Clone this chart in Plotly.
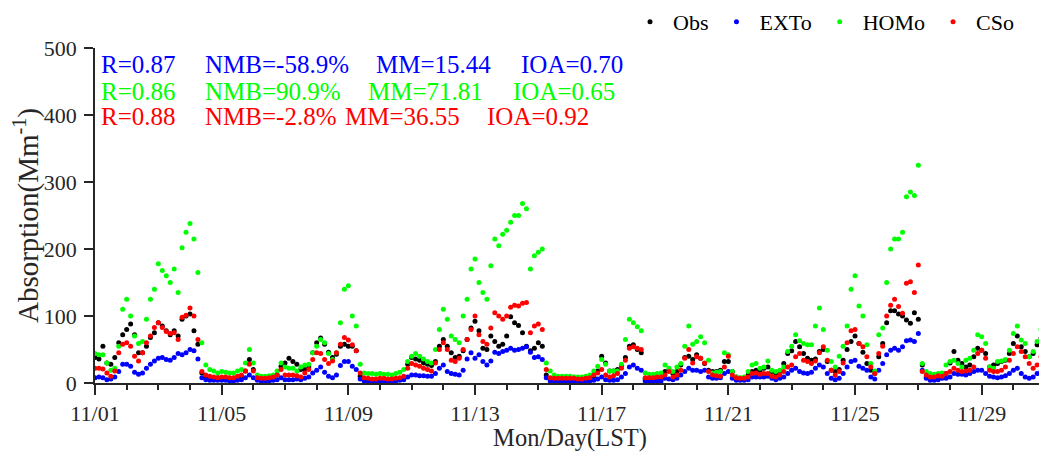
import plotly.graph_objects as go
import pandas as pd

# ---------------- data (3-hourly, 11/01 00:00 -> 11/30 21:00) ----------------
start_date = "2018-11-01"
n_points = 240

obs = [
    38, 36, 55, 30, 28, 38, 60, 72,        # 11/01
    80, 88, 72, 45, 45, 55, 68, 75,        # 11/02
    90, 85, 78, 72, 78, 70, 95, 100,       # 11/03
    103, 78, 58, 15, 10, 8, 7, 8,          # 11/04
    8, 8, 7, 7, 8, 10, 18, 35,             # 11/05
    20, 10, 7, 6, 7, 8, 12, 25,            # 11/06
    30, 37, 32, 28, 20, 20, 24, 45,        # 11/07
    60, 67, 58, 46, 38, 43, 55, 58,        # 11/08
    55, 55, 48, 10, 6, 5, 5, 5,            # 11/09
    5, 5, 4, 4, 5, 6, 8, 28,               # 11/10
    38, 36, 34, 30, 28, 26, 32, 55,        # 11/11
    65, 55, 45, 38, 40, 48, 65, 82,        # 11/12
    92, 78, 52, 50, 70, 62, 55, 58,        # 11/13
    70, 99, 90, 86, 75, 55, 48, 52,        # 11/14
    60, 55, 12, 6, 5, 5, 5, 5,             # 11/15
    5, 5, 4, 4, 5, 6, 10, 18,              # 11/16
    40, 30, 18, 18, 20, 26, 38, 55,        # 11/17
    57, 50, 45, 6, 6, 6, 7, 8,             # 11/18
    17, 19, 14, 17, 27, 38, 40, 35,        # 11/19
    42, 37, 29, 19, 17, 17, 19, 32,        # 11/20
    32, 17, 9, 7, 7, 12, 17, 19,           # 11/21
    19, 22, 24, 17, 14, 17, 29, 44,        # 11/22
    48, 62, 54, 44, 37, 34, 36, 47,        # 11/23
    50, 32, 19, 17, 20, 34, 50, 62,        # 11/24
    70, 59, 46, 29, 19, 14, 39, 59,        # 11/25
    90, 108, 108, 103, 100, 94, 89, 105,   # 11/26
    95, 27, 9, 7, 7, 8, 8, 14,             # 11/27
    30, 47, 34, 29, 24, 27, 39, 52,        # 11/28
    49, 44, 24, 27, 29, 32, 34, 44,        # 11/29
    59, 70, 54, 47, 39, 44, 57, 67,        # 11/30
]

ext = [
    8, 9, 8, 5, 6, 9, 17, 28,              # 11/01
    28, 25, 16, 13, 15, 22, 28, 33,        # 11/02
    37, 38, 35, 34, 38, 44, 42, 45,        # 11/03
    50, 48, 36, 8, 5, 4, 4, 4,             # 11/04
    4, 4, 3, 3, 4, 5, 8, 12,               # 11/05
    8, 4, 3, 3, 3, 4, 5, 8,                # 11/06
    5, 5, 5, 6, 5, 7, 9, 15,               # 11/07
    19, 24, 16, 10, 8, 12, 26, 32,         # 11/08
    32, 25, 20, 6, 3, 3, 3, 3,             # 11/09
    3, 3, 3, 3, 3, 4, 5, 9,                # 11/10
    12, 12, 11, 11, 10, 10, 14, 22,        # 11/11
    27, 17, 14, 13, 12, 19, 36, 45,        # 11/12
    37, 42, 32, 27, 33, 46, 44, 47,        # 11/13
    49, 52, 49, 50, 52, 54, 46, 38,        # 11/14
    39, 35, 8, 3, 3, 3, 3, 3,              # 11/15
    3, 3, 3, 3, 3, 3, 4, 6,                # 11/16
    9, 5, 4, 4, 5, 9, 14, 24,              # 11/17
    27, 22, 19, 3, 3, 3, 3, 3,             # 11/18
    7, 6, 5, 7, 12, 17, 22, 19,            # 11/19
    19, 17, 19, 9, 7, 7, 8, 14,            # 11/20
    17, 7, 4, 4, 4, 5, 9, 9,               # 11/21
    9, 9, 10, 7, 5, 7, 9, 14,              # 11/22
    19, 22, 17, 15, 14, 16, 22, 27,        # 11/23
    24, 14, 7, 5, 7, 14, 24, 32,           # 11/24
    34, 25, 22, 19, 9, 6, 19, 29,          # 11/25
    42, 49, 52, 49, 54, 63, 64, 62,        # 11/26
    74, 19, 7, 4, 4, 5, 7, 7,              # 11/27
    9, 14, 13, 13, 12, 14, 17, 19,         # 11/28
    19, 14, 10, 9, 8, 9, 11, 14,           # 11/29
    19, 22, 14, 9, 7, 9, 14, 17,           # 11/30
]

homo = [
    44, 42, 42, 30, 19, 22, 55, 110,       # 11/01
    125, 100, 70, 59, 62, 95, 125, 140,    # 11/02
    178, 168, 160, 150, 170, 135, 202, 225,  # 11/03
    238, 215, 165, 60, 27, 20, 18, 15,     # 11/04
    17, 16, 15, 15, 18, 20, 30, 50,        # 11/05
    30, 12, 10, 10, 11, 12, 18, 30,        # 11/06
    24, 22, 22, 18, 24, 27, 28, 45,        # 11/07
    55, 65, 60, 44, 35, 45, 90, 140,       # 11/08
    145, 100, 85, 28, 15, 14, 14, 13,      # 11/09
    14, 13, 13, 12, 14, 16, 20, 32,        # 11/10
    40, 44, 40, 36, 32, 30, 50, 80,        # 11/11
    110, 95, 70, 65, 60, 100, 125, 170,    # 11/12
    185, 150, 135, 125, 175, 215, 205, 222,  # 11/13
    228, 240, 250, 250, 268, 260, 170, 190,  # 11/14
    195, 200, 30, 18, 12, 10, 10, 10,      # 11/15
    10, 9, 9, 9, 10, 12, 18, 25,           # 11/16
    35, 28, 18, 18, 18, 28, 65, 95,        # 11/17
    90, 84, 78, 15, 13, 13, 14, 15,        # 11/18
    27, 22, 17, 24, 29, 55, 85, 58,        # 11/19
    62, 69, 60, 34, 15, 16, 17, 45,        # 11/20
    42, 17, 9, 8, 9, 17, 27, 29,           # 11/21
    22, 24, 33, 19, 17, 19, 24, 47,        # 11/22
    55, 72, 63, 59, 57, 57, 85, 112,       # 11/23
    80, 49, 32, 24, 40, 55, 85, 140,       # 11/24
    160, 115, 100, 57, 29, 18, 72, 82,     # 11/25
    150, 200, 215, 215, 225, 278, 285, 280,  # 11/26
    325, 29, 17, 14, 13, 14, 15, 27,       # 11/27
    32, 34, 29, 24, 34, 37, 49, 72,        # 11/28
    69, 59, 24, 22, 32, 33, 35, 49,        # 11/29
    74, 85, 64, 59, 39, 47, 62, 80,        # 11/30
]

cso = [
    22, 22, 21, 15, 10, 18, 45, 58,        # 11/01
    60, 55, 40, 33, 45, 60, 70, 83,        # 11/02
    90, 83, 77, 74, 75, 65, 98, 101,       # 11/03
    112, 100, 65, 17, 12, 10, 9, 8,        # 11/04
    9, 9, 8, 8, 10, 12, 18, 28,            # 11/05
    18, 8, 7, 7, 8, 9, 12, 20,             # 11/06
    12, 12, 12, 11, 9, 15, 20, 35,         # 11/07
    45, 44, 35, 29, 33, 45, 58, 68,        # 11/08
    64, 57, 48, 15, 8, 7, 6, 6,            # 11/09
    7, 7, 6, 6, 7, 8, 10, 22,              # 11/10
    29, 27, 25, 22, 20, 18, 30, 50,        # 11/11
    60, 50, 34, 32, 37, 50, 65, 80,        # 11/12
    100, 72, 62, 58, 82, 105, 100, 95,     # 11/13
    100, 113, 116, 115, 119, 120, 75, 85,  # 11/14
    88, 80, 20, 8, 7, 7, 7, 7,             # 11/15
    7, 7, 6, 6, 7, 8, 12, 15,              # 11/16
    20, 12, 9, 11, 14, 22, 34, 52,         # 11/17
    54, 52, 50, 8, 8, 8, 9, 9,             # 11/18
    12, 17, 9, 12, 19, 37, 50, 30,         # 11/19
    39, 37, 30, 17, 12, 11, 10, 24,        # 11/20
    40, 12, 8, 7, 7, 9, 14, 15,            # 11/21
    13, 14, 14, 10, 9, 12, 17, 24,         # 11/22
    27, 39, 44, 34, 32, 29, 33, 45,        # 11/23
    54, 34, 19, 12, 17, 30, 60, 78,        # 11/24
    80, 59, 54, 39, 24, 14, 44, 55,        # 11/25
    100, 116, 125, 114, 104, 149, 151, 135,  # 11/26
    176, 17, 12, 9, 9, 11, 10, 14,         # 11/27
    17, 22, 19, 17, 18, 19, 24, 44,        # 11/28
    49, 37, 19, 17, 17, 19, 24, 34,        # 11/29
    44, 54, 47, 39, 29, 22, 27, 39,        # 11/30
]

series_names = ["Obs", "EXTo", "HOMo", "CSo"]
series_colors = ["#000000", "#0000ff", "#00ff00", "#ff0000"]

stat_rows = [
    ["R=0.87", "NMB=-58.9%", "MM=15.44", "IOA=0.70"],   # EXTo
    ["R=0.86", "NMB=90.9%", "MM=71.81", "IOA=0.65"],    # HOMo
    ["R=0.88", "NMB=-2.8%", "MM=36.55", "IOA=0.92"],    # CSo
]
stat_colors = ["#0000ff", "#00ff00", "#ff0000"]

x_title = "Mon/Day(LST)"
y_title = "Absorption(Mm<sup>-1</sup>)"

# ---------------- figure ----------------
times = pd.date_range(start_date, periods=n_points, freq="3h")

OFF = 8                       # default page margin of the html body
W, H = 1047 - OFF, 452 - OFF
# target plot box on the page: x 95..1045, y 48..383
ML, MR, MT, MB = 95 - OFF, 2, 48 - OFF, 452 - 383
PW, PH = W - ML - MR, H - MT - MB
FONT = "Liberation Serif, Times New Roman, serif"
AX = "#262626"

fig = go.Figure()
for name, vals, col in zip(series_names, [obs, ext, homo, cso], series_colors):
    fig.add_trace(go.Scatter(
        x=times, y=vals, mode="markers", name=name,
        marker=dict(color=col, size=5, line=dict(width=0)),
    ))

# statistics text, positioned in page pixels
col_px = [
    [100, 204, 375, 520],
    [100, 204, 367, 512],
    [100, 204, 344, 486],
]
row_py = [65, 91, 116]
for r, (texts, colr) in enumerate(zip(stat_rows, stat_colors)):
    for c, t in enumerate(texts):
        fig.add_annotation(
            x=(col_px[r][c] - OFF - ML) / PW,
            y=(H - MB - (row_py[r] - OFF)) / PH,
            xref="paper", yref="paper", xanchor="left", yanchor="middle",
            text=t, showarrow=False, borderpad=0,
            font=dict(family=FONT, size=25, color=colr),
        )

fig.update_layout(
    width=W, height=H,
    margin=dict(l=ML, r=MR, t=MT, b=MB, pad=0, autoexpand=False),
    paper_bgcolor="white", plot_bgcolor="white",
    font=dict(family=FONT, color=AX),
    showlegend=True,
    legend=dict(
        orientation="h", xref="container", yref="container",
        x=(1019 - OFF) / W, xanchor="right",
        y=1 - (22 - OFF) / H, yanchor="middle",
        itemwidth=36,
        font=dict(family=FONT, size=22, color="#000000"),
        bgcolor="rgba(0,0,0,0)", borderwidth=0,
    ),
    xaxis=dict(
        type="date", automargin=False,
        range=["2018-11-01 00:00", "2018-12-01 00:00"],
        tick0="2018-11-01", dtick=4 * 86400000, tickformat="%m/%d",
        ticks="outside", ticklen=10, tickwidth=1.5, tickcolor=AX,
        minor=dict(dtick=86400000, ticks="outside", ticklen=5,
                   tickwidth=1.5, tickcolor=AX, showgrid=False),
        showline=True, linecolor=AX, linewidth=1.5,
        showgrid=False, zeroline=False,
        tickfont=dict(family=FONT, size=22, color=AX),
        title=dict(text=x_title, font=dict(family=FONT, size=24.5, color=AX), standoff=6),
    ),
    yaxis=dict(
        automargin=False,
        range=[0, 500], tick0=0, dtick=100,
        ticks="outside", ticklen=9, tickwidth=1.5, tickcolor=AX,
        ticklabelstandoff=3,
        showline=True, linecolor=AX, linewidth=1.5,
        showgrid=False, zeroline=False,
        tickfont=dict(family=FONT, size=22, color=AX),
        title=dict(text=y_title, font=dict(family=FONT, size=29, color=AX), standoff=6),
    ),
)

fig.write_html("out.html")
